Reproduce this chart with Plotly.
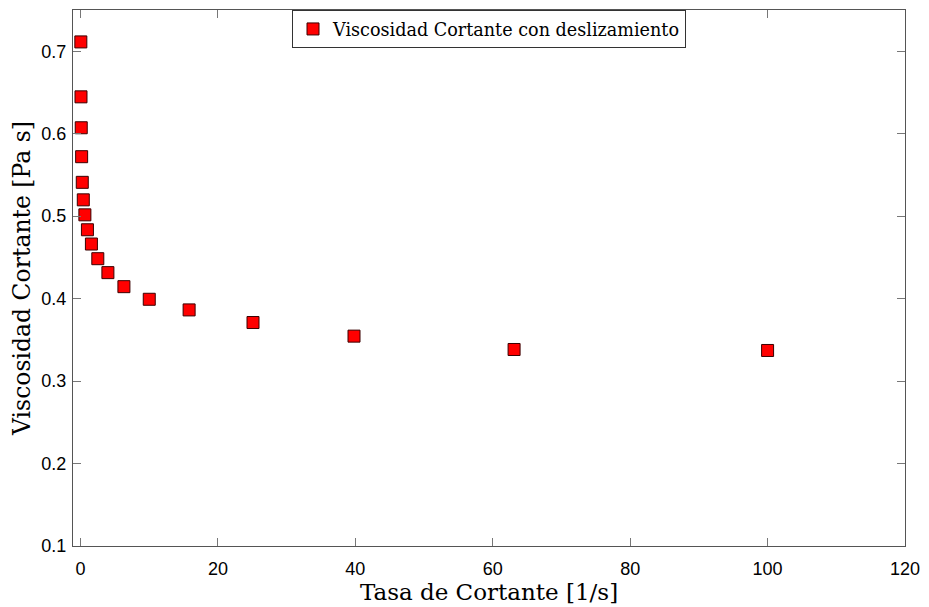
import plotly.graph_objects as go

shear_rate = [0.04, 0.063, 0.1, 0.158, 0.251, 0.398, 0.631, 1.0, 1.58, 2.51,
              3.98, 6.31, 10.0, 15.8, 25.1, 39.8, 63.1, 100.0]
viscosity = [0.7113, 0.6447, 0.6072, 0.5721, 0.5410, 0.5198, 0.5016, 0.4835,
             0.4662, 0.4484, 0.4315, 0.4145, 0.3992, 0.3863, 0.3710, 0.3545,
             0.3383, 0.3371]
series_name = "Viscosidad Cortante con deslizamiento"
x_ticks = [0, 20, 40, 60, 80, 100, 120]
y_ticks = [0.1, 0.2, 0.3, 0.4, 0.5, 0.6, 0.7]

fig = go.Figure()
fig.add_trace(go.Scatter(
    x=shear_rate, y=viscosity, mode="markers", name=series_name,
    marker=dict(symbol="square", size=12, color="#ff0000",
                line=dict(color="#3a0000", width=1)),
))

axis_common = dict(
    showline=True, linecolor="#555555", linewidth=1, mirror="ticks",
    ticks="inside", ticklen=8, tickcolor="#777777", showgrid=False,
    zeroline=False, tickfont=dict(family="Liberation Sans", size=18, color="black"),
)

fig.update_layout(
    width=929, height=607,
    margin=dict(l=73, r=20, t=9, b=61),
    paper_bgcolor="white", plot_bgcolor="white",
    showlegend=True,
    legend=dict(x=0.5, y=1, xanchor="center", yanchor="top",
                bordercolor="#333333", borderwidth=1, bgcolor="white",
                font=dict(family="DejaVu Serif", size=17.6, color="black"),
                itemwidth=30, tracegroupgap=0),
    xaxis=dict(range=[-1.1, 120], tickvals=x_ticks, ticklabelstandoff=6,
               title=dict(text="Tasa de Cortante [1/s]", standoff=2,
                          font=dict(family="DejaVu Serif", size=23, color="black")),
               **axis_common),
    yaxis=dict(range=[0.1, 0.75], tickvals=y_ticks, ticktext=[f"{v:.1f}" for v in y_ticks],
               ticklabelstandoff=2,
               title=dict(text="Viscosidad Cortante [Pa s]", standoff=4,
                          font=dict(family="DejaVu Serif", size=23.5, color="black")),
               **axis_common),
)

fig.write_html("out.html")
